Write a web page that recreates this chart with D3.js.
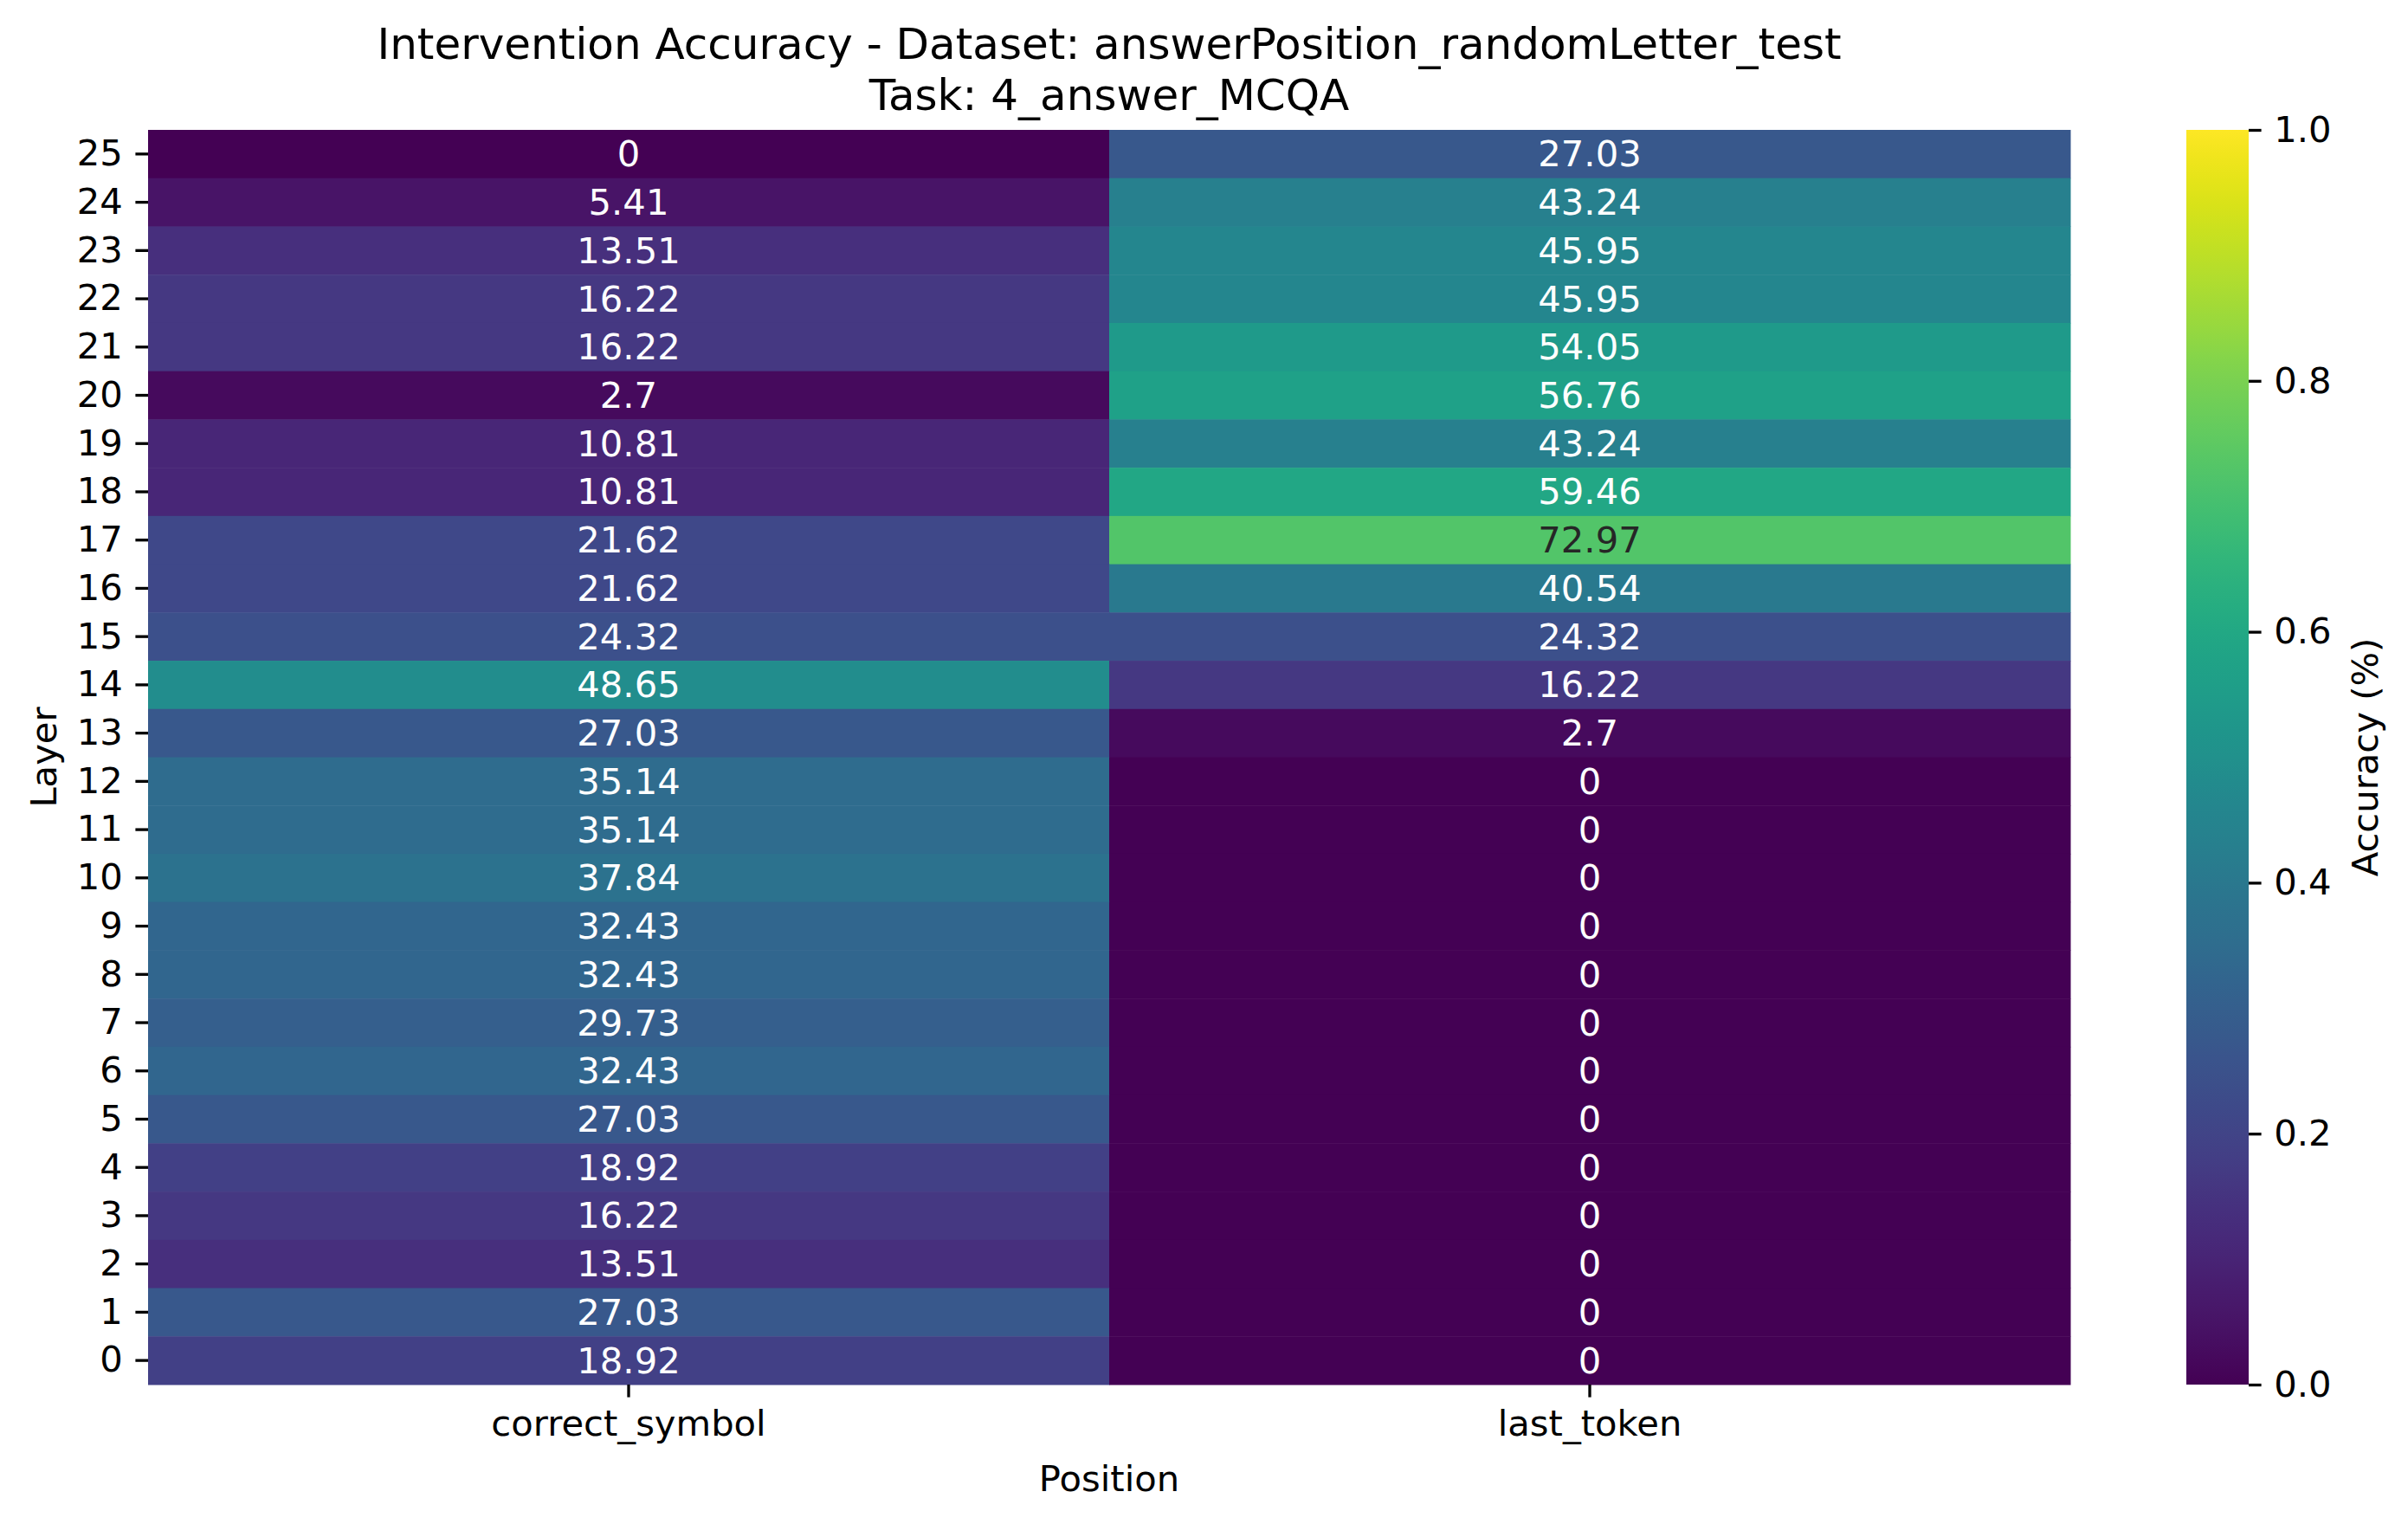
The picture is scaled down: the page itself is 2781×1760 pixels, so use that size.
<!DOCTYPE html>
<html>
<head>
<meta charset="utf-8" />
<title>Intervention Accuracy heatmap</title>
<script src="https://d3js.org/d3.v7.min.js"></script>
<style>
  body { margin: 0; background: #fff; }
  text { font-family: "DejaVu Sans", sans-serif; }
</style>
</head>
<body>
<svg width="2781" height="1760"></svg>
<script>
// rows listed top to bottom (layer 25 down to 0)
const layers = d3.range(25, -1, -1);
const positions = ["correct_symbol", "last_token"];
const correctSymbol = [0, 5.41, 13.51, 16.22, 16.22, 2.7, 10.81, 10.81, 21.62, 21.62, 24.32, 48.65, 27.03,
  35.14, 35.14, 37.84, 32.43, 32.43, 29.73, 32.43, 27.03, 18.92, 16.22, 13.51, 27.03, 18.92];
const lastToken = [27.03, 43.24, 45.95, 45.95, 54.05, 56.76, 43.24, 59.46, 72.97, 40.54, 24.32, 16.22, 2.7,
  0, 0, 0, 0, 0, 0, 0, 0, 0, 0, 0, 0, 0];
const colorTicks = [0, 0.2, 0.4, 0.6, 0.8, 1.0];

const svg = d3.select("svg");
const fs = 41.7;          // 10pt at 300dpi
const tick = 14.6;        // 3.5pt
const plotL = 171, plotR = 2391, plotT = 150, plotB = 1599;

const cells = [];
layers.forEach((l, i) => {
  cells.push({ layer: l, pos: positions[0], v: correctSymbol[i] });
  cells.push({ layer: l, pos: positions[1], v: lastToken[i] });
});

const x = d3.scaleBand().domain(positions).range([plotL, plotR]);
const y = d3.scaleBand().domain(layers).range([plotT, plotB]);
const color = d3.scaleSequential(d3.interpolateViridis).domain([0, 1]);

// luminance rule like seaborn for annotation colour
function textColor(c) {
  const rgb = d3.rgb(c);
  const lin = [rgb.r, rgb.g, rgb.b].map(u => {
    u /= 255;
    return u <= 0.03928 ? u / 12.92 : Math.pow((u + 0.055) / 1.055, 2.4);
  });
  const lum = 0.2126 * lin[0] + 0.7152 * lin[1] + 0.0722 * lin[2];
  return lum > 0.408 ? "#262626" : "#ffffff";
}

svg.append("g").selectAll("rect")
  .data(cells)
  .enter()
  .append("rect")
  .attr("x", d => x(d.pos))
  .attr("y", d => y(d.layer))
  .attr("width", x.bandwidth() + 0.5)
  .attr("height", y.bandwidth() + 0.5)
  .attr("fill", d => color(d.v / 100));

svg.append("g").selectAll("text")
  .data(cells)
  .enter()
  .append("text")
  .attr("x", d => x(d.pos) + x.bandwidth() / 2)
  .attr("y", d => y(d.layer) + y.bandwidth() / 2)
  .attr("text-anchor", "middle")
  .attr("dominant-baseline", "central")
  .style("font-size", fs + "px")
  .attr("fill", d => textColor(color(d.v / 100)))
  .text(d => String(d.v));

// axes
const yAxis = svg.append("g")
  .attr("transform", `translate(${plotL},0)`)
  .call(d3.axisLeft(y).tickSize(tick).tickPadding(tick));
const xAxis = svg.append("g")
  .attr("transform", `translate(0,${plotB})`)
  .call(d3.axisBottom(x).tickSize(tick).tickPadding(tick));
[yAxis, xAxis].forEach(g => {
  g.select(".domain").remove();
  g.selectAll(".tick line").attr("stroke", "#000").attr("stroke-width", 3.3);
  g.selectAll(".tick text").attr("fill", "#000").style("font-size", fs + "px")
    .style("font-family", "DejaVu Sans");
});

// colorbar
const cbLeft = 2525, cbWidth = 72;
const cy = d3.scaleLinear().domain([0, 1]).range([plotB, plotT]);
const grad = svg.append("defs").append("linearGradient")
  .attr("id", "viridis").attr("x1", 0).attr("y1", 1).attr("x2", 0).attr("y2", 0);
d3.range(0, 1.0001, 0.02).forEach(t => {
  grad.append("stop").attr("offset", t).attr("stop-color", color(t));
});
svg.append("rect")
  .attr("x", cbLeft).attr("y", plotT)
  .attr("width", cbWidth).attr("height", plotB - plotT)
  .attr("fill", "url(#viridis)");
const cAxis = svg.append("g")
  .attr("transform", `translate(${cbLeft + cbWidth},0)`)
  .call(d3.axisRight(cy).tickValues(colorTicks).tickFormat(d3.format(".1f")).tickSize(tick).tickPadding(tick));
cAxis.select(".domain").remove();
cAxis.selectAll(".tick line").attr("stroke", "#000").attr("stroke-width", 3.3);
cAxis.selectAll(".tick text").attr("fill", "#000").style("font-size", fs + "px")
  .style("font-family", "DejaVu Sans");

svg.append("text")
  .attr("transform", `translate(2731,${(plotT + plotB) / 2}) rotate(-90)`)
  .attr("text-anchor", "middle")
  .attr("dominant-baseline", "central")
  .style("font-size", fs + "px")
  .text("Accuracy (%)");

// labels
svg.append("text")
  .attr("x", (plotL + plotR) / 2).attr("y", 1722)
  .attr("text-anchor", "middle")
  .style("font-size", fs + "px")
  .text("Position");
svg.append("text")
  .attr("transform", `translate(50,${(plotT + plotB) / 2}) rotate(-90)`)
  .attr("text-anchor", "middle")
  .attr("dominant-baseline", "central")
  .style("font-size", fs + "px")
  .text("Layer");

// title
const tfs = 50;
svg.append("text")
  .attr("x", (plotL + plotR) / 2).attr("y", 68)
  .attr("text-anchor", "middle")
  .style("font-size", tfs + "px")
  .text("Intervention Accuracy - Dataset: answerPosition_randomLetter_test");
svg.append("text")
  .attr("x", (plotL + plotR) / 2).attr("y", 127)
  .attr("text-anchor", "middle")
  .style("font-size", tfs + "px")
  .text("Task: 4_answer_MCQA");
</script>
</body>
</html>
